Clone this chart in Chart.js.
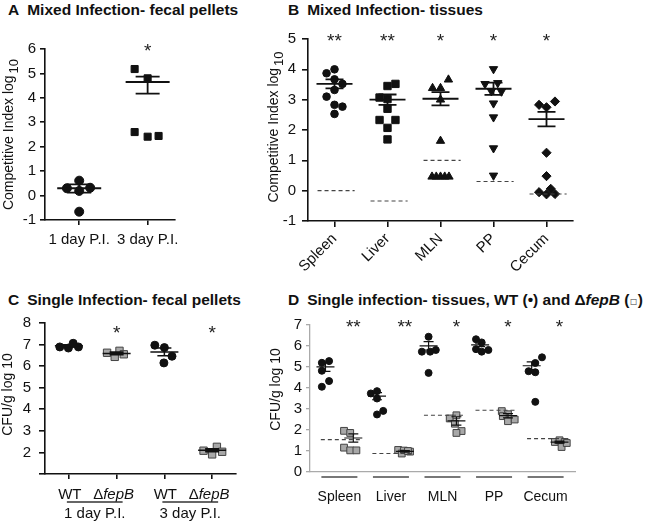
<!DOCTYPE html>
<html>
<head>
<meta charset="utf-8">
<script src="https://cdn.jsdelivr.net/npm/chart.js@4.4.1/dist/chart.umd.min.js"></script>
<style>
  body { margin: 0; background: #fff; width: 650px; height: 523px; position: relative; overflow: hidden;
         font-family: "Liberation Sans", Arial, sans-serif; }
  canvas { position: absolute; }
  .title { position: absolute; font-weight: bold; font-size: 15.5px; line-height: 18px; white-space: nowrap; color: #111; }
  .title .tag { margin-right: 8px; }
  .sq { font-family: "DejaVu Sans"; font-weight: normal; font-size: 12px; color: #777; }
</style>
</head>
<body>

<div class="title" style="left:8px;top:1px"><span class="tag">A</span>Mixed Infection- fecal pellets</div>
<div class="title" style="left:288px;top:1px"><span class="tag">B</span>Mixed Infection- tissues</div>
<div class="title" style="left:8px;top:291px"><span class="tag">C</span>Single Infection- fecal pellets</div>
<div class="title" style="left:288px;top:291px"><span class="tag">D</span>Single infection- tissues, WT (•) and Δ<i>fepB</i> (<span class="sq">▫</span>)</div>

<canvas id="chartA" width="195" height="232" style="left:0;top:28px"></canvas>
<canvas id="chartB" width="345" height="255" style="left:240px;top:20px"></canvas>
<canvas id="chartC" width="250" height="218" style="left:0;top:305px"></canvas>
<canvas id="chartD" width="340" height="218" style="left:250px;top:305px"></canvas>

<script>
/* ========================================
   DATA
======================================== */

// A: mixed infection, fecal pellets (competitive index, log10)
const aCategories = ["1 day P.I.", "3 day P.I."];
const aDay1 = [0.30, 0.61, 0.32, 0.19, -0.66];
const aDay1Jitter = [-0.18, 0, 0.16, 0, 0];
const aDay3 = [5.18, 4.80, 2.60, 2.41, 2.44];
const aDay3Jitter = [-0.19, 0, -0.19, 0, 0.16];
const aMeans = [0.30, 4.65];
const aErrTop = [0.46, 4.87];
const aErrBottom = [0.12, 4.17];
const aStars = ["", "*"];
const aStarLevel = 6.1;

// B: mixed infection, tissues
const bCategories = ["Spleen", "Liver", "MLN", "PP", "Cecum"];
const bSpleen = [3.87, 4.00, 3.67, 3.52, 3.32, 3.10, 2.83, 2.77, 2.53];
const bSpleenJitter = [-0.15, 0, 0, 0.15, 0, -0.15, 0, 0.15, 0];
const bLiver = [3.45, 3.52, 3.07, 3.02, 2.70, 2.33, 2.33, 2.07, 1.69];
const bLiverJitter = [0, 0.15, -0.15, 0, 0, -0.15, 0.15, 0, 0];
const bMln = [3.38, 3.38, 3.66, 3.00, 1.64, 0.46, 0.46, 0.46, 0.46, 0.46];
const bMlnJitter = [-0.15, 0, 0.15, 0, 0, -0.16, -0.08, 0, 0.08, 0.16];
const bPp = [4.01, 3.52, 3.55, 3.28, 3.27, 2.88, 2.42, 1.40, 0.50];
const bPpJitter = [0, -0.16, 0.08, -0.04, 0.15, 0, 0, 0, 0];
const bCecum = [2.83, 2.75, 2.94, 1.25, 0.48, -0.05, -0.12, 0.06, -0.11];
const bCecumJitter = [-0.14, 0, 0.16, 0, 0, -0.14, 0, 0.08, 0.16];
const bMeans = [3.52, 3.00, 3.03, 3.36, 2.36];
const bSems = [0.15, 0.17, 0.22, 0.20, 0.24];
const bDetection = [0.00, -0.34, 1.00, 0.30, -0.11];
const bStars = ["**", "**", "*", "*", "*"];
const bStarLevel = 5.08;

// C: single infection, fecal pellets (CFU/g log10)
const cCategories = ["WT", "fepB", "WT", "fepB"];
const cDays = ["1 day P.I.", "3 day P.I."];
const cWt1 = [6.89, 6.84, 7.06, 6.89];
const cWt1Jitter = [-0.19, -0.01, 0.09, 0.2];
const cFep1 = [6.62, 6.43, 6.71, 6.55];
const cFep1Jitter = [-0.2, -0.04, 0.06, 0.15];
const cWt3 = [6.97, 6.86, 6.46, 6.15];
const cWt3Jitter = [-0.2, 0, 0.16, -0.01];
const cFep3 = [2.08, 1.91, 2.26, 2.03];
const cFep3Jitter = [-0.18, 0, 0.1, 0.21];
const cMeans = [6.94, 6.59, 6.66, 2.10];
const cSems = [0.05, 0.06, 0.18, 0.07];
const cStars = ["", "*", "", "*"];
const cStarLevel = 7.75;

// D: single infection, tissues (rows: Spleen, Liver, MLN, PP, Cecum)
const dCategories = ["Spleen", "Liver", "MLN", "PP", "Cecum"];
const dWt = [
  [5.20, 5.28, 4.82, 4.33, 4.06],
  [3.74, 3.85, 3.50, 2.91, 2.74],
  [6.44, 5.73, 5.73, 5.81, 4.72],
  [6.32, 6.17, 5.85, 5.73, 5.81],
  [4.80, 5.19, 5.46, 4.75, 3.34]
];
const dWtJitter = [
  [-0.07, 0.07, -0.07, 0.07, -0.07],
  [-0.12, 0, 0, 0.12, 0],
  [0, -0.13, 0.03, 0.14, 0],
  [-0.08, 0.03, -0.08, 0.03, 0.16],
  [-0.06, 0.07, 0.2, 0.07, 0.07]
];
const dFep = [
  [1.96, 1.86, 1.16, 1.03, 1.03],
  [1.05, 1.02, 0.97, 0.88, 1.00],
  [2.55, 2.70, 2.30, 1.95, 1.86],
  [2.90, 2.75, 2.66, 2.42, 2.50],
  [1.43, 1.51, 1.43, 1.19, 1.38]
];
const dFepJitter = [
  [-0.18, -0.06, -0.18, -0.06, 0.06],
  [-0.13, -0.02, 0.1, -0.06, 0.06],
  [-0.13, 0, -0.03, 0.1, 0],
  [-0.12, 0, -0.1, 0, 0.13],
  [-0.09, 0, 0.1, 0.04, 0.14]
];
const dWtMeans = [5.01, 3.61, 6.01, 6.05, 5.06];
const dWtSems = [0.22, 0.17, 0.20, 0.08, 0.18];
const dFepMeans = [1.62, 0.98, 2.43, 2.68, 1.42];
const dFepSems = [0.20, 0.04, 0.20, 0.10, 0.05];
const dDetection = [1.54, 0.88, 2.70, 2.94, 1.59];
const dStars = ["**", "**", "*", "*", "*"];
const dStarLevel = 7.1;
const dShift = 0.27; // WT left of group centre, fepB right

/* ========================================
   STYLE
======================================== */
const FONT = "'Liberation Sans', Arial, sans-serif";
const GREY_FILL = "#a8a8a8";
const GREY_EDGE = "#444";

/* ========================================
   PLUGIN: mean/SEM bars, dashed limits, stars, y title
======================================== */
const panelMarks = {
  id: "panelMarks",
  afterDatasetsDraw(chart, args, o) {
    const { ctx, scales: { x, y } } = chart;
    ctx.save();

    // detection limits
    ctx.setLineDash([4, 3]);
    ctx.strokeStyle = "#444";
    ctx.lineWidth = 1.1;
    (o.dashes || []).forEach(d => {
      const py = y.getPixelForValue(d.y);
      ctx.beginPath();
      ctx.moveTo(x.getPixelForValue(d.x0), py);
      ctx.lineTo(x.getPixelForValue(d.x1), py);
      ctx.stroke();
    });
    ctx.setLineDash([]);

    // mean +/- SEM
    ctx.strokeStyle = "#111";
    ctx.lineWidth = o.lineWidth;
    (o.groups || []).forEach(g => {
      const px = x.getPixelForValue(g.x);
      const pm = y.getPixelForValue(g.mean);
      const ph = y.getPixelForValue(g.hi);
      const pl = y.getPixelForValue(g.lo);
      ctx.beginPath();
      ctx.moveTo(px - o.meanHalf, pm); ctx.lineTo(px + o.meanHalf, pm);
      ctx.moveTo(px, ph); ctx.lineTo(px, pl);
      ctx.moveTo(px - o.capHalf, ph); ctx.lineTo(px + o.capHalf, ph);
      ctx.moveTo(px - o.capHalf, pl); ctx.lineTo(px + o.capHalf, pl);
      ctx.stroke();
    });

    // significance stars
    ctx.fillStyle = "#222";
    ctx.font = `19px ${FONT}`;
    ctx.textAlign = "center";
    ctx.textBaseline = "middle";
    (o.stars || []).forEach(s => {
      if (!s.text) return;
      ctx.fillText(s.text, x.getPixelForValue(s.x), y.getPixelForValue(s.y) + 5);
    });
    ctx.restore();
  },
  afterDraw(chart, args, o) {
    const { ctx, chartArea } = chart;
    if (o.yTitle) {
      const t = o.yTitle;
      ctx.save();
      ctx.translate(t.x, (chartArea.top + chartArea.bottom) / 2 + (t.dy || 0));
      ctx.rotate(-Math.PI / 2);
      ctx.fillStyle = "#111";
      ctx.textBaseline = "middle";
      ctx.textAlign = "left";
      ctx.font = `14px ${FONT}`;
      const w1 = ctx.measureText(t.text).width;
      ctx.font = `13px ${FONT}`;
      const w2 = t.sub ? ctx.measureText(t.sub).width + 2 : 0;
      const start = -(w1 + w2) / 2;
      ctx.font = `14px ${FONT}`;
      ctx.fillText(t.text, start, 0);
      if (t.sub) {
        ctx.font = `13px ${FONT}`;
        ctx.fillText(t.sub, start + w1 + 2, 5);
      }
      ctx.restore();
    }
    if (o.extra) o.extra(chart);
  }
};

/* ========================================
   HELPERS
======================================== */
function jittered(values, jitter, base) {
  return values.map((v, k) => ({ x: base + jitter[k], y: v }));
}

function meanGroups(xs, means, lo, hi) {
  return xs.map((x, i) => ({ x, mean: means[i], lo: lo[i], hi: hi[i] }));
}

function axisBase(color, width, tickLength) {
  return {
    grid: { display: true, drawOnChartArea: false, drawTicks: true, tickLength, color, lineWidth: width },
    border: { display: true, color, width }
  };
}

function baseOptions() {
  return {
    responsive: false,
    animation: false,
    events: [],
    plugins: { legend: { display: false }, tooltip: { enabled: false } }
  };
}

/* ========================================
   PANEL A
======================================== */
function drawPanelA() {
  const ctx = document.getElementById("chartA").getContext("2d");
  const opts = baseOptions();
  opts.layout = { padding: { top: 21, right: 20, bottom: 8, left: 0 } };
  opts.scales = {
    x: {
      type: "linear", min: -0.5, max: 1.4,
      ...axisBase("#111", 1.6, 5),
      afterFit: s => { s.height = 32; },
      afterBuildTicks: s => { s.ticks = aCategories.map((_, i) => ({ value: i })); },
      ticks: { padding: 6, color: "#111", font: { family: FONT, size: 15 }, maxRotation: 0, autoSkip: false,
               callback: v => aCategories[v] }
    },
    y: {
      min: -1, max: 6,
      ...axisBase("#111", 1.6, 5),
      afterFit: s => { s.width = 45; },
      ticks: { stepSize: 1, padding: 4, color: "#111", font: { family: FONT, size: 15 } }
    }
  };
  opts.plugins.panelMarks = {
    lineWidth: 1.8, meanHalf: 22, capHalf: 12,
    groups: meanGroups([0, 1], aMeans, aErrBottom, aErrTop),
    stars: aStars.map((t, i) => ({ x: i, y: aStarLevel, text: t })),
    yTitle: { x: 9, text: "Competitive Index log", sub: "10" }
  };
  new Chart(ctx, {
    type: "scatter",
    data: {
      datasets: [
        { data: jittered(aDay1, aDay1Jitter, 0), pointStyle: "circle", pointRadius: 4.5,
          backgroundColor: "#111", borderColor: "#111" },
        { data: jittered(aDay3, aDay3Jitter, 1), pointStyle: "rect", pointRadius: 5,
          backgroundColor: "#111", borderColor: "#111" }
      ]
    },
    options: opts,
    plugins: [panelMarks]
  });
}

/* ========================================
   PANEL B
======================================== */
function drawPanelB() {
  const ctx = document.getElementById("chartB").getContext("2d");
  const groups = [
    [bSpleen, bSpleenJitter, "circle", 3.8, 0],
    [bLiver, bLiverJitter, "rect", 5.2, 0],
    [bMln, bMlnJitter, "triangle", 4.8, 0],
    [bPp, bPpJitter, "triangle", 4.8, 180],
    [bCecum, bCecumJitter, "rectRot", 4.6, 0]
  ];
  const opts = baseOptions();
  opts.layout = { padding: { top: 19, right: 12, bottom: 4, left: 0 } };
  opts.scales = {
    x: {
      type: "linear", min: -0.5, max: 4.5,
      ...axisBase("#111", 1.6, 6),
      afterFit: s => { s.height = 50; },
      afterBuildTicks: s => { s.ticks = bCategories.map((_, i) => ({ value: i })); },
      ticks: { padding: 3, color: "#111", font: { family: FONT, size: 15 }, minRotation: 45, maxRotation: 45,
               autoSkip: false, callback: v => bCategories[v] }
    },
    y: {
      min: -1, max: 5,
      ...axisBase("#111", 1.6, 6),
      afterFit: s => { s.width = 68; },
      ticks: { stepSize: 1, padding: 6, color: "#111", font: { family: FONT, size: 15 } }
    }
  };
  opts.plugins.panelMarks = {
    lineWidth: 1.8, meanHalf: 18, capHalf: 9,
    groups: meanGroups(bCategories.map((_, i) => i), bMeans,
      bMeans.map((m, i) => m - bSems[i]), bMeans.map((m, i) => m + bSems[i])),
    dashes: bDetection.map((v, i) => ({ x0: i - 0.32, x1: i + 0.38, y: v })),
    stars: bStars.map((t, i) => ({ x: i, y: bStarLevel, text: t })),
    yTitle: { x: 34, text: "Competitive Index log", sub: "10", dy: -3 }
  };
  new Chart(ctx, {
    type: "scatter",
    data: {
      datasets: groups.map(([vals, jit, style, r, rot], i) => ({
        data: jittered(vals, jit, i), pointStyle: style, pointRadius: r, pointRotation: rot,
        backgroundColor: "#111", borderColor: "#111", borderWidth: 1
      }))
    },
    options: opts,
    plugins: [panelMarks]
  });
}

/* ========================================
   PANEL C
======================================== */
function drawPanelC() {
  const ctx = document.getElementById("chartC").getContext("2d");
  const opts = baseOptions();
  opts.layout = { padding: { top: 18, right: 14, bottom: 4, left: 0 } };
  opts.scales = {
    x: {
      type: "linear", min: -0.5, max: 3.5,
      ...axisBase("#111", 1.6, 5),
      afterFit: s => { s.height = 45; },
      afterBuildTicks: s => { s.ticks = cCategories.map((_, i) => ({ value: i })); },
      ticks: { callback: () => "" }
    },
    y: {
      min: 1, max: 8,
      ...axisBase("#111", 1.6, 6),
      afterFit: s => { s.width = 45; },
      ticks: { stepSize: 1, padding: 8, color: "#111", font: { family: FONT, size: 15 },
               callback: v => (v === 1 ? "" : v) }
    }
  };
  opts.plugins.panelMarks = {
    lineWidth: 1.5, meanHalf: 14, capHalf: 7,
    groups: meanGroups([0, 1, 2, 3], cMeans,
      cMeans.map((m, i) => m - cSems[i]), cMeans.map((m, i) => m + cSems[i])),
    stars: cStars.map((t, i) => ({ x: i, y: cStarLevel, text: t })),
    yTitle: { x: 8, text: "CFU/g log 10", dy: -4 },
    extra: chart => {
      const c = chart.ctx, x = chart.scales.x;
      const base = chart.chartArea.bottom;
      c.save();
      c.fillStyle = "#111";
      c.textBaseline = "middle";
      cCategories.forEach((name, i) => {
        const px = x.getPixelForValue(i);
        if (name === "WT") {
          c.font = `15px ${FONT}`;
          c.textAlign = "center";
          c.fillText(name, px + 1, base + 21);
        } else {
          c.font = `15px ${FONT}`;
          const wd = c.measureText("Δ").width;
          c.font = `italic 15px ${FONT}`;
          const wf = c.measureText(name).width;
          const start = px - 3 - (wd + wf) / 2;
          c.textAlign = "left";
          c.font = `15px ${FONT}`;
          c.fillText("Δ", start, base + 21);
          c.font = `italic 15px ${FONT}`;
          c.fillText(name, start + wd, base + 21);
        }
      });
      c.strokeStyle = "#333";
      c.lineWidth = 1.4;
      c.font = `15px ${FONT}`;
      c.textAlign = "center";
      cDays.forEach((day, k) => {
        const p0 = x.getPixelForValue(2 * k), p1 = x.getPixelForValue(2 * k + 1);
        c.beginPath();
        c.moveTo(p0 - 2, base + 28);
        c.lineTo(p1 + 6, base + 28);
        c.stroke();
        c.fillText(day, (p0 + p1) / 2 + 2, base + 40);
      });
      c.restore();
    }
  };
  new Chart(ctx, {
    type: "scatter",
    data: {
      datasets: [
        { data: [...jittered(cWt1, cWt1Jitter, 0), ...jittered(cWt3, cWt3Jitter, 2)],
          pointStyle: "circle", pointRadius: 4, backgroundColor: "#111", borderColor: "#111" },
        { data: [...jittered(cFep1, cFep1Jitter, 1), ...jittered(cFep3, cFep3Jitter, 3)],
          pointStyle: "rect", pointRadius: 5.2, backgroundColor: GREY_FILL, borderColor: GREY_EDGE, borderWidth: 1 }
      ]
    },
    options: opts,
    plugins: [panelMarks]
  });
}

/* ========================================
   PANEL D
======================================== */
function drawPanelD() {
  const ctx = document.getElementById("chartD").getContext("2d");
  const wtPts = [], fepPts = [];
  dWt.forEach((vals, i) => wtPts.push(...jittered(vals, dWtJitter[i], i - dShift)));
  dFep.forEach((vals, i) => fepPts.push(...jittered(vals, dFepJitter[i], i + dShift)));

  const opts = baseOptions();
  opts.layout = { padding: { top: 20, right: 15, bottom: 4, left: 0 } };
  opts.scales = {
    x: {
      type: "linear", min: -0.57, max: 4.57,
      grid: { display: false },
      border: { display: true, color: "#aaa", width: 1.3 },
      afterFit: s => { s.height = 47; },
      afterBuildTicks: s => { s.ticks = dCategories.map((_, i) => ({ value: i })); },
      ticks: { padding: 9, color: "#111", font: { family: FONT, size: 14 }, maxRotation: 0, autoSkip: false,
               callback: v => dCategories[v] }
    },
    y: {
      min: 0, max: 7,
      ...axisBase("#aaa", 1.3, 4),
      afterFit: s => { s.width = 60; },
      ticks: { stepSize: 1, padding: 4, color: "#111", font: { family: FONT, size: 15 } }
    }
  };
  const wtX = dCategories.map((_, i) => i - dShift);
  const fepX = dCategories.map((_, i) => i + dShift);
  opts.plugins.panelMarks = {
    lineWidth: 1.2, meanHalf: 9, capHalf: 5,
    groups: [
      ...meanGroups(wtX, dWtMeans, dWtMeans.map((m, i) => m - dWtSems[i]), dWtMeans.map((m, i) => m + dWtSems[i])),
      ...meanGroups(fepX, dFepMeans, dFepMeans.map((m, i) => m - dFepSems[i]), dFepMeans.map((m, i) => m + dFepSems[i]))
    ],
    dashes: dDetection.map((v, i) => ({ x0: i - 0.36, x1: i + 0.45, y: v })),
    stars: dStars.map((t, i) => ({ x: i + dShift, y: dStarLevel, text: t })),
    yTitle: { x: 26, text: "CFU/g log 10", dy: -9 },
    extra: chart => {
      const c = chart.ctx, x = chart.scales.x;
      const yb = chart.chartArea.bottom + 5;
      c.save();
      c.strokeStyle = "#777";
      c.lineWidth = 2;
      dCategories.forEach((_, i) => {
        const px = x.getPixelForValue(i);
        c.beginPath();
        c.moveTo(px - 18, yb);
        c.lineTo(px + 18, yb);
        c.stroke();
      });
      c.restore();
    }
  };
  new Chart(ctx, {
    type: "scatter",
    data: {
      datasets: [
        { data: wtPts, pointStyle: "circle", pointRadius: 3.5, backgroundColor: "#111", borderColor: "#111" },
        { data: fepPts, pointStyle: "rect", pointRadius: 4.8, backgroundColor: GREY_FILL,
          borderColor: GREY_EDGE, borderWidth: 1 }
      ]
    },
    options: opts,
    plugins: [panelMarks]
  });
}

/* ========================================
   INITIAL LOAD
======================================== */
document.addEventListener("DOMContentLoaded", () => {
  drawPanelA();
  drawPanelB();
  drawPanelC();
  drawPanelD();
});
</script>
</body>
</html>
